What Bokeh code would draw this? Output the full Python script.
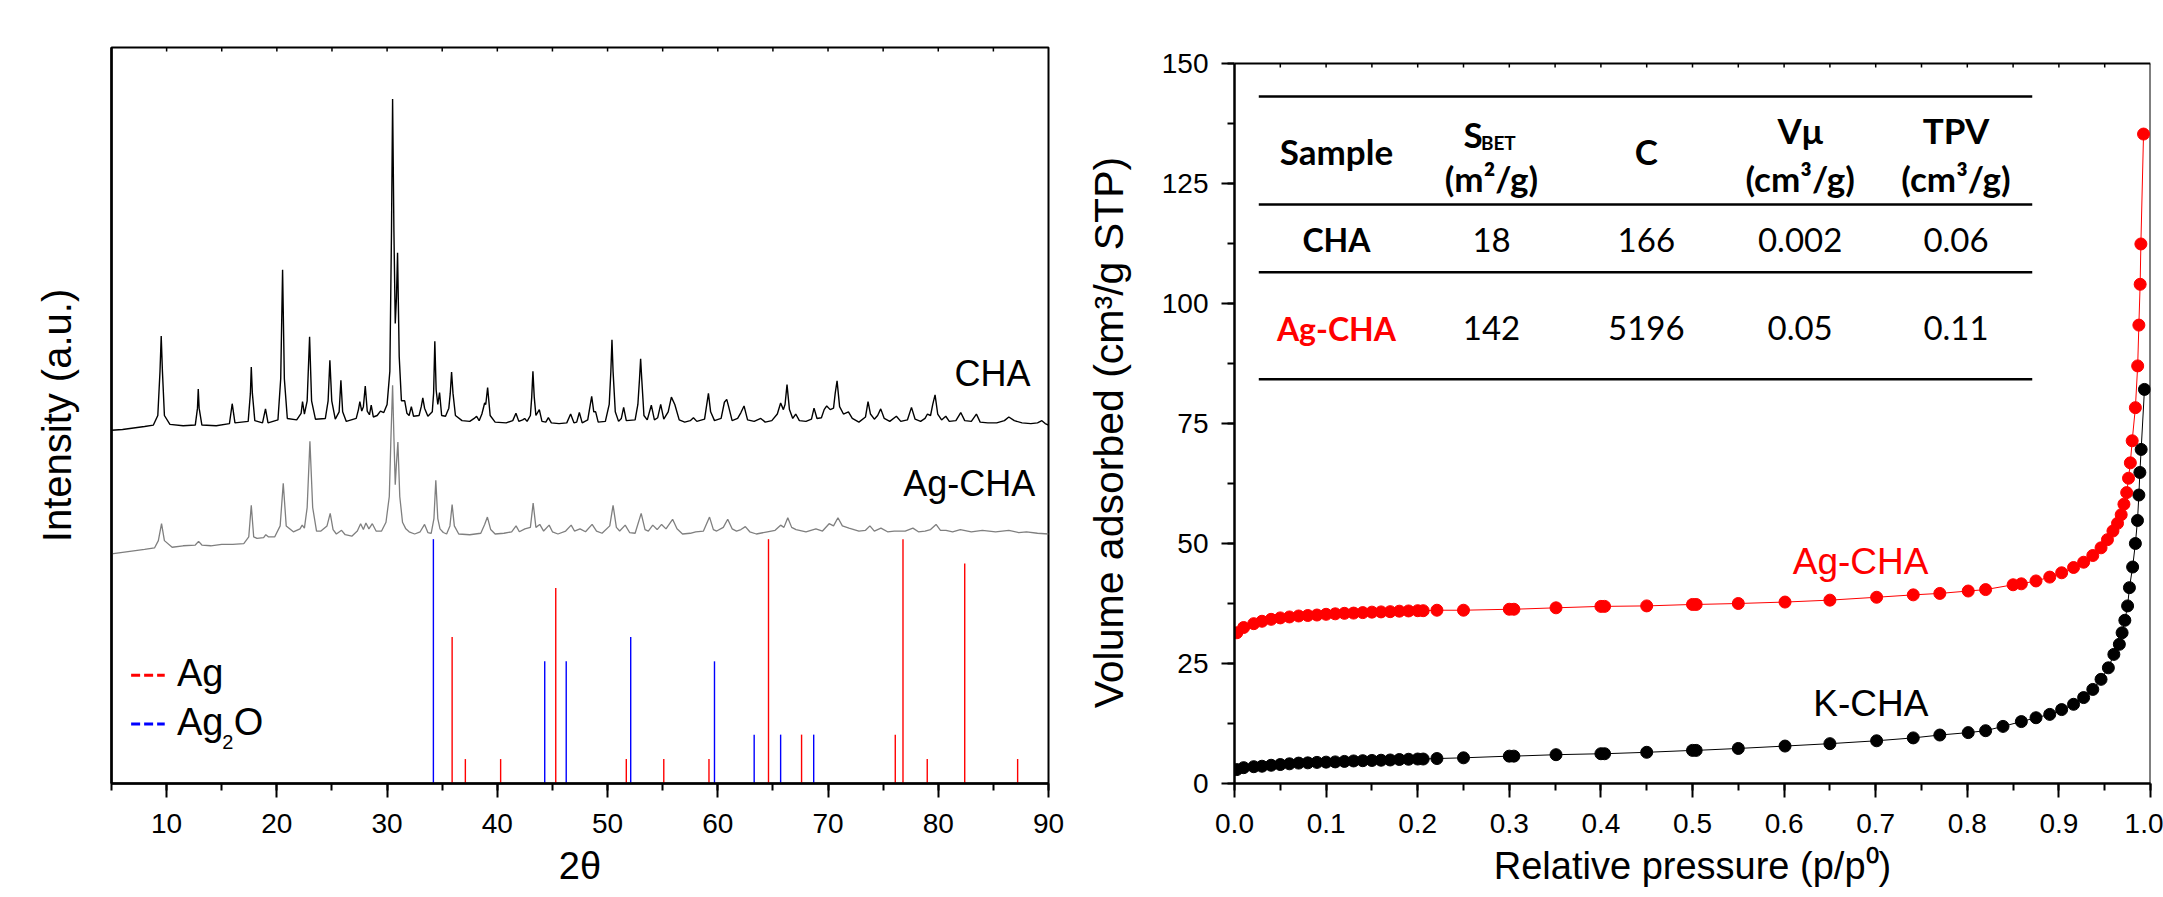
from bokeh.plotting import figure
from bokeh.layouts import row
from bokeh.models import Range1d, SingleIntervalTicker, FixedTicker, NumeralTickFormatter
from bokeh.core.properties import value
from bokeh.embed import file_html
from bokeh.resources import INLINE

AX_FONT = "Liberation Sans"
TB_FONT = "Lato"

# ---------------- XRD data (2theta, intensity a.u.) ----------------
cha_trace = [
    (5.0, 48.0), (6.0, 48.1), (7.0, 48.3), (8.0, 48.5), (8.8, 48.7), (9.2, 50.0), (9.4, 56.0), (9.51, 60.8),
    (9.62, 56.0), (9.8, 50.0), (10.3, 48.8), (11.5, 48.6), (12.6, 48.7), (12.8, 51.0), (12.87, 53.6),
    (12.95, 51.0), (13.2, 48.7), (14.5, 48.6), (15.7, 48.9), (15.95, 51.6), (16.2, 49.0), (17.4, 49.2),
    (17.6, 53.0), (17.68, 56.6), (17.78, 53.0), (18.0, 49.3), (18.7, 49.0), (18.97, 50.9), (19.2, 49.0),
    (20.1, 49.4), (20.35, 55.0), (20.52, 69.8), (20.68, 55.0), (20.95, 49.6), (21.8, 49.4), (22.2, 50.3),
    (22.33, 51.9), (22.5, 50.2), (22.75, 52.0), (22.97, 60.7), (23.15, 52.0), (23.5, 49.5), (24.4, 49.6),
    (24.65, 52.0), (24.81, 57.5), (24.98, 52.0), (25.3, 49.5), (25.65, 50.5), (25.81, 54.8), (25.97, 50.5),
    (26.3, 49.2), (27.2, 49.6), (27.4, 50.8), (27.53, 51.9), (27.7, 50.6), (27.85, 51.2), (28.02, 54.0),
    (28.2, 50.6), (28.4, 50.1), (28.56, 51.4), (28.75, 49.8), (29.1, 50.0), (29.4, 50.6), (29.7, 50.4),
    (30.0, 51.5), (30.25, 56.0), (30.4, 75.0), (30.5, 93.0), (30.62, 75.0), (30.74, 62.5), (30.85, 66.0),
    (30.95, 72.1), (31.1, 58.0), (31.3, 52.0), (31.6, 52.0), (31.8, 50.3), (32.0, 50.0), (32.2, 51.2),
    (32.4, 49.9), (32.9, 50.0), (33.1, 51.2), (33.24, 52.4), (33.4, 51.0), (33.7, 49.9), (34.1, 50.5),
    (34.22, 53.0), (34.33, 60.1), (34.45, 53.5), (34.6, 51.5), (34.76, 53.1), (34.95, 50.0), (35.3, 49.9),
    (35.6, 51.0), (35.73, 53.0), (35.85, 55.9), (35.98, 53.0), (36.2, 50.0), (36.8, 49.3), (37.5, 49.2),
    (37.9, 49.6), (38.12, 49.9), (38.35, 49.3), (38.6, 50.2), (38.85, 51.7), (38.95, 51.5), (39.12, 53.8),
    (39.35, 50.0), (39.8, 49.1), (40.8, 49.0), (41.4, 49.3), (41.69, 50.3), (41.95, 49.2), (42.3, 49.4),
    (42.48, 49.6), (42.7, 49.2), (43.0, 50.0), (43.12, 52.5), (43.23, 56.0), (43.35, 52.5), (43.5, 50.0),
    (43.81, 50.8), (44.05, 49.2), (44.4, 49.1), (44.63, 49.7), (44.9, 49.0), (45.6, 48.9), (46.3, 49.0),
    (46.65, 50.2), (46.95, 49.0), (47.2, 49.1), (47.44, 50.4), (47.7, 49.0), (48.2, 49.4), (48.56, 52.6),
    (48.75, 50.5), (48.92, 50.5), (49.15, 49.1), (49.8, 49.2), (50.15, 51.5), (50.3, 56.0), (50.4, 60.3),
    (50.5, 56.0), (50.7, 50.5), (51.0, 49.2), (51.25, 49.6), (51.46, 51.1), (51.7, 49.3), (52.5, 49.4),
    (52.75, 51.5), (52.9, 55.0), (53.0, 57.7), (53.1, 55.0), (53.3, 50.0), (53.6, 49.4), (53.97, 51.4),
    (54.25, 49.4), (54.55, 49.7), (54.82, 51.5), (55.1, 49.5), (55.5, 50.5), (55.79, 52.5), (56.1, 51.5),
    (56.5, 49.4), (57.0, 49.1), (57.5, 49.3), (57.79, 49.7), (58.1, 49.2), (58.8, 49.5), (59.0, 51.5),
    (59.15, 53.0), (59.35, 50.5), (59.7, 49.3), (60.3, 49.6), (60.6, 51.8), (60.81, 52.2), (60.95, 51.4),
    (61.3, 49.3), (61.8, 49.6), (62.1, 50.4), (62.38, 51.3), (62.7, 49.4), (63.3, 49.2), (63.9, 49.6),
    (64.3, 49.1), (64.9, 49.3), (65.4, 50.2), (65.7, 51.7), (65.95, 50.8), (66.1, 51.5), (66.28, 54.2),
    (66.5, 50.8), (66.8, 49.6), (67.07, 50.2), (67.4, 49.3), (68.0, 49.2), (68.5, 49.5), (68.73, 51.0),
    (69.0, 49.6), (69.4, 49.7), (69.65, 50.8), (69.88, 51.3), (70.2, 50.8), (70.5, 51.0), (70.65, 53.0),
    (70.82, 54.7), (71.05, 51.2), (71.4, 50.2), (71.85, 50.5), (72.2, 49.6), (72.8, 49.1), (73.4, 49.8),
    (73.63, 51.9), (73.85, 50.2), (74.2, 49.5), (74.5, 50.0), (74.78, 50.9), (75.1, 49.6), (75.6, 49.2),
    (76.2, 49.9), (76.6, 49.2), (77.2, 49.4), (77.57, 51.1), (77.9, 49.5), (78.4, 49.2), (78.8, 49.6),
    (79.02, 50.2), (79.3, 50.0), (79.5, 51.5), (79.71, 52.8), (79.95, 50.2), (80.3, 49.4), (80.68, 49.9),
    (81.0, 49.2), (81.6, 49.3), (82.04, 50.4), (82.4, 49.3), (83.0, 49.2), (83.46, 50.2), (83.8, 49.1),
    (84.5, 49.0), (85.3, 49.0), (86.0, 49.3), (86.4, 49.8), (86.9, 49.3), (87.6, 49.0), (88.4, 48.9),
    (89.0, 49.0), (89.4, 49.3), (89.7, 48.9), (90.0, 48.7),
]

agcha_trace = [
    (5.0, 31.2), (6.0, 31.4), (7.0, 31.6), (8.0, 31.8), (8.9, 32.0), (9.25, 33.0), (9.54, 35.3), (9.8, 33.0),
    (10.5, 32.1), (11.5, 32.3), (12.6, 32.4), (12.9, 32.9), (13.2, 32.4), (14.0, 32.3), (15.0, 32.5),
    (16.0, 32.5), (17.0, 32.6), (17.45, 33.5), (17.68, 37.8), (17.9, 33.5), (18.2, 33.3), (18.8, 33.4),
    (19.0, 33.8), (19.25, 33.5), (19.8, 33.5), (20.3, 35.0), (20.58, 40.8), (20.85, 35.0), (21.5, 34.2),
    (22.1, 34.6), (22.3, 35.1), (22.5, 34.7), (22.75, 37.5), (23.0, 46.5), (23.25, 37.5), (23.6, 34.3),
    (24.0, 34.3), (24.55, 35.0), (24.84, 36.7), (25.1, 34.5), (25.4, 33.9), (25.87, 34.4), (26.2, 33.8),
    (26.8, 33.6), (27.3, 34.3), (27.6, 35.3), (27.85, 34.5), (28.08, 35.4), (28.35, 34.6), (28.66, 35.3),
    (29.0, 34.3), (29.5, 34.3), (29.9, 35.5), (30.2, 39.0), (30.35, 47.0), (30.5, 54.1), (30.62, 47.0),
    (30.74, 40.6), (30.85, 43.5), (30.98, 46.4), (31.15, 39.0), (31.4, 35.5), (31.7, 34.6), (32.0, 34.2),
    (32.5, 33.9), (33.0, 34.2), (33.4, 35.2), (33.7, 34.1), (34.0, 34.0), (34.25, 36.0), (34.42, 41.2),
    (34.6, 36.0), (34.8, 34.6), (35.1, 34.1), (35.4, 33.9), (35.7, 35.0), (35.9, 37.9), (36.1, 35.0),
    (36.5, 33.9), (37.5, 33.8), (38.5, 34.0), (38.85, 35.2), (39.1, 36.2), (39.4, 34.5), (39.8, 33.9),
    (40.6, 34.0), (41.3, 34.2), (41.7, 35.0), (42.0, 34.2), (42.5, 34.6), (43.0, 34.8), (43.25, 38.1),
    (43.5, 34.8), (43.85, 35.2), (44.2, 34.3), (44.7, 35.1), (45.0, 34.2), (45.5, 33.9), (46.2, 34.3),
    (46.7, 35.1), (47.0, 34.3), (47.5, 34.6), (48.0, 34.2), (48.6, 35.2), (49.0, 34.3), (49.5, 34.0),
    (50.2, 35.0), (50.5, 37.8), (50.8, 34.8), (51.1, 34.3), (51.6, 35.1), (52.0, 34.1), (52.5, 34.0),
    (53.05, 36.7), (53.4, 34.5), (53.7, 34.3), (54.1, 35.1), (54.5, 34.5), (54.9, 35.2), (55.3, 34.6),
    (55.9, 35.9), (56.3, 34.6), (56.8, 33.9), (57.5, 34.0), (58.0, 34.2), (58.7, 34.3), (59.25, 36.2),
    (59.6, 34.5), (59.9, 34.3), (60.5, 34.8), (60.9, 35.9), (61.3, 34.6), (61.7, 34.3), (62.1, 34.5),
    (62.5, 34.9), (62.9, 34.2), (63.5, 33.9), (64.5, 34.2), (65.2, 34.4), (65.7, 35.1), (66.0, 34.8),
    (66.35, 36.1), (66.7, 34.8), (67.1, 34.5), (68.0, 34.2), (68.9, 34.6), (69.5, 34.3), (70.1, 35.3),
    (70.5, 35.0), (70.9, 36.1), (71.3, 35.0), (71.9, 34.7), (72.8, 34.3), (73.4, 34.4), (73.8, 35.0),
    (74.2, 34.3), (74.8, 34.7), (75.4, 34.2), (76.0, 34.3), (77.0, 34.3), (77.7, 34.7), (78.2, 34.2),
    (78.8, 34.3), (79.3, 34.5), (79.8, 35.2), (80.2, 34.4), (80.7, 34.4), (81.3, 34.2), (82.0, 34.5),
    (83.0, 34.2), (84.0, 34.4), (85.2, 34.2), (86.4, 34.4), (87.3, 34.1), (88.0, 34.2), (89.0, 34.0),
    (90.0, 33.9),
]

# reference patterns: positions (2theta) and relative intensity (%)
ag_pos = [35.9, 37.1, 40.3, 45.3, 51.7, 55.1, 59.2, 64.6, 67.6, 76.1, 76.8, 79.0, 82.4, 87.2]
ag_rel = [60, 10, 10, 80, 10, 10, 10, 100, 20, 20, 100, 10, 90, 10]
ag2o_pos = [34.2, 44.3, 46.25, 52.1, 59.7, 63.3, 65.7, 68.7]
ag2o_rel = [100, 50, 50, 60, 50, 20, 20, 20]
ref_scale = 0.332   # a.u. per % of relative intensity

# ---------------- N2 isotherms (p/p0, cm3/g STP) ----------------
p_low = [0.0025, 0.01, 0.021, 0.03, 0.04, 0.05, 0.06, 0.07, 0.08, 0.09, 0.10, 0.11, 0.12, 0.13,
         0.14, 0.15, 0.16, 0.17, 0.18, 0.19, 0.20, 0.206, 0.221]
kcha_p = p_low + [0.250, 0.300, 0.305, 0.351, 0.400, 0.404, 0.450, 0.500, 0.504, 0.550, 0.601, 0.650,
                  0.701, 0.741, 0.770, 0.801, 0.820, 0.839, 0.859, 0.875, 0.890, 0.903, 0.916, 0.927,
                  0.937, 0.946, 0.954, 0.960, 0.966, 0.969, 0.972, 0.975, 0.977, 0.9805, 0.9835, 0.9858,
                  0.9873, 0.9884, 0.9898, 0.9934]
kcha_v = [2.9, 3.3, 3.5, 3.6, 3.8, 3.95, 4.1, 4.25, 4.3, 4.4, 4.45, 4.5, 4.6, 4.7, 4.75, 4.8, 4.85,
          4.9, 5.0, 5.05, 5.1, 5.1, 5.2,
          5.35, 5.7, 5.7, 6.0, 6.2, 6.2, 6.5, 6.9, 6.9, 7.3, 7.8, 8.3, 8.9, 9.5, 10.1, 10.6, 11.0, 11.9,
          12.9, 13.7, 14.4, 15.4, 16.5, 17.9, 19.6, 21.7, 24.1, 26.9, 29.0, 31.4, 34.0, 37.0, 40.8,
          45.1, 50.0, 54.8, 60.1, 64.8, 69.6, 82.1]
agcha_p = p_low + [0.250, 0.300, 0.305, 0.351, 0.400, 0.404, 0.450, 0.500, 0.504, 0.550, 0.601, 0.650,
                   0.701, 0.741, 0.770, 0.801, 0.820, 0.850, 0.859, 0.875, 0.890, 0.903, 0.916, 0.927,
                   0.937, 0.946, 0.953, 0.959, 0.964, 0.968, 0.971, 0.974, 0.976, 0.978, 0.980, 0.9835,
                   0.986, 0.9873, 0.9887, 0.9895, 0.9924]
agcha_v = [31.4, 32.5, 33.3, 33.8, 34.2, 34.5, 34.7, 34.9, 35.0, 35.1, 35.25, 35.35, 35.45, 35.5,
           35.6, 35.7, 35.75, 35.8, 35.9, 35.95, 36.0, 36.0, 36.1,
           36.1, 36.3, 36.3, 36.6, 36.9, 36.9, 37.0, 37.3, 37.3, 37.5, 37.8, 38.2, 38.8, 39.3, 39.6,
           40.1, 40.4, 41.4, 41.6, 42.2, 43.0, 43.9, 45.0, 46.1, 47.5, 49.1, 50.8, 52.6, 54.2, 56.0,
           58.2, 60.6, 63.6, 66.8, 71.4, 78.3, 87.0, 95.5, 104.0, 112.4, 135.3]

# ---------------- table ----------------
tbl_samples = ["CHA", "Ag-CHA"]
tbl_sbet = ["18", "142"]
tbl_c = ["166", "5196"]
tbl_vmu = ["0.002", "0.05"]
tbl_tpv = ["0.06", "0.11"]

# ============================================================================
FRAME_H = 736
V_MAX = 150.0
V_TOP = V_MAX * FRAME_H / 720.0     # right panel frame is 720 px tall for 0..150
TOP_TICK_PX = 4
NBSP = "\u00a0"


def style_axis(ax, tick_out, minor_out):
    ax.axis_line_width = 2.5
    ax.axis_line_color = "black"
    ax.major_tick_out = tick_out
    ax.major_tick_in = 0
    ax.minor_tick_out = minor_out
    ax.minor_tick_in = 0
    ax.major_tick_line_width = 2
    ax.minor_tick_line_width = 2
    ax.major_tick_line_color = "black"
    ax.minor_tick_line_color = "black"
    ax.major_label_text_font = AX_FONT
    ax.major_label_text_font_size = "28px"
    ax.major_label_text_color = "black"
    ax.axis_label_text_font = AX_FONT
    ax.axis_label_text_font_style = "normal"
    ax.axis_label_text_font_size = "40px"
    ax.axis_label_text_color = "black"


# ---------------- left panel: XRD ----------------
p1 = figure(frame_width=937, frame_height=FRAME_H, min_border_left=111, min_border_right=32,
            min_border_top=47, min_border_bottom=112, x_range=Range1d(5, 90), y_range=Range1d(0, 100),
            output_backend="svg", toolbar_location=None, title=None)
p1.grid.visible = False
p1.outline_line_color = "black"
p1.outline_line_width = 2
p1.outline_line_alpha = 1

xa = p1.xaxis[0]
xa.ticker = SingleIntervalTicker(interval=10, num_minor_ticks=2)
style_axis(xa, 14, 7)
xa.major_label_standoff = 16
xa.axis_label = "2θ"
xa.axis_label_text_font_size = "38px"
xa.axis_label_standoff = 9
ya = p1.yaxis[0]
ya.ticker = FixedTicker(ticks=[])
style_axis(ya, 0, 0)
ya.axis_label = "Intensity (a.u.)"
ya.axis_label_standoff = 33

# small inner ticks on the top edge
top1 = list(range(10, 90, 5))
p1.segment(x0=top1, y0=[100] * len(top1), x1=top1, y1=[100 - TOP_TICK_PX * 100 / FRAME_H] * len(top1),
           line_color="black", line_width=1.5)

p1.segment(x0=ag_pos, y0=[0] * len(ag_pos), x1=ag_pos, y1=[r * ref_scale for r in ag_rel],
           line_color="#ff0000", line_width=1.4)
p1.segment(x0=ag2o_pos, y0=[0] * len(ag2o_pos), x1=ag2o_pos, y1=[r * ref_scale for r in ag2o_rel],
           line_color="#0000ff", line_width=1.4)
p1.line([t for t, _ in agcha_trace], [i for _, i in agcha_trace], line_color="#7f7f7f", line_width=1.3)
p1.line([t for t, _ in cha_trace], [i for _, i in cha_trace], line_color="black", line_width=1.4)

lbl_kw = dict(text_font=value(AX_FONT), text_font_size="36px", text_baseline="middle",
              text_align="right", text_color="black")
p1.text(x=[88.36], y=[55.7], text=["CHA"], **lbl_kw)
p1.text(x=[88.8], y=[40.8], text=["Ag-CHA"], **lbl_kw)

# legend
p1.line([6.78, 9.83], [14.7, 14.7], line_color="#ff0000", line_width=3, line_dash="9 4")
p1.line([6.78, 9.83], [8.1, 8.1], line_color="#0000ff", line_width=3, line_dash="9 4")
leg_kw = dict(text_font=value(AX_FONT), text_baseline="middle", text_align="left", text_color="black")
p1.text(x=[10.94], y=[15.0], text=["Ag"], text_font_size="38px", **leg_kw)
p1.text(x=[10.94], y=[8.4], text=["Ag"], text_font_size="38px", **leg_kw)
p1.text(x=[15.04], y=[5.6], text=["2"], text_font_size="20px", **leg_kw)
p1.text(x=[16.09], y=[8.4], text=["O"], text_font_size="38px", **leg_kw)

# ---------------- right panel: isotherms ----------------
p2 = figure(frame_width=916, frame_height=FRAME_H, min_border_left=154, min_border_right=13,
            min_border_top=47, min_border_bottom=112, x_range=Range1d(0, 1), y_range=Range1d(0, V_TOP),
            output_backend="svg", toolbar_location=None, title=None)
p2.grid.visible = False
p2.outline_line_color = None

xb = p2.xaxis[0]
xb.ticker = SingleIntervalTicker(interval=0.1, num_minor_ticks=2)
xb.formatter = NumeralTickFormatter(format="0.0")
style_axis(xb, 14, 7)
xb.major_label_standoff = 16
xb.axis_label = "Relative pressure (p/p⁰)"
xb.axis_label_text_font_size = "38px"
xb.axis_label_standoff = 9
yb = p2.yaxis[0]
yb.ticker = SingleIntervalTicker(interval=25, num_minor_ticks=2)
yb.bounds = (0, V_MAX)
style_axis(yb, 13, 7)
yb.major_label_standoff = 13
# trailing no-break spaces keep the title centred on the 0-150 part of the axis
yb.axis_label = "Volume adsorbed (cm³/g STP)" + NBSP * 3
yb.axis_label_text_font_size = "41px"
yb.axis_label_standoff = 27

# frame of the right panel (top and right edges) with small inner ticks on top
p2.segment(x0=[0, 1], y0=[V_MAX, 0], x1=[1, 1], y1=[V_MAX, V_MAX], line_color="black", line_width=2)
top2 = [k / 20 for k in range(1, 20)]
p2.segment(x0=top2, y0=[V_MAX] * len(top2), x1=top2,
           y1=[V_MAX - TOP_TICK_PX * V_TOP / FRAME_H] * len(top2), line_color="black", line_width=1.5)

p2.line(kcha_p, kcha_v, line_color="black", line_width=1)
p2.scatter(kcha_p, kcha_v, size=12, fill_color="black", line_color="black")
p2.line(agcha_p, agcha_v, line_color="#ff0000", line_width=1)
p2.scatter(agcha_p, agcha_v, size=12, fill_color="#ff0000", line_color="#ff0000")

p2.text(x=[0.7576], y=[46.25], text=["Ag-CHA"], text_font=value(AX_FONT), text_font_size="37px",
        text_baseline="middle", text_align="right", text_color="#ff0000")
p2.text(x=[0.7576], y=[16.6], text=["K-CHA"], text_font=value(AX_FONT), text_font_size="37px",
        text_baseline="middle", text_align="right", text_color="black")

# table
p2.segment(x0=[0.0265] * 4, y0=[143.1, 120.6, 106.5, 84.2], x1=[0.8709] * 4,
           y1=[143.1, 120.6, 106.5, 84.2], line_color="black", line_width=2.5)

col_x = [0.1113, 0.2806, 0.4496, 0.6175, 0.7877]
hdr = dict(text_font=value(TB_FONT), text_font_style="bold", text_font_size="35px",
           text_baseline="middle", text_align="center", text_color="black")
p2.text(x=[col_x[0], col_x[2]], y=[131.7, 131.7], text=["Sample", "C"], **hdr)
p2.text(x=[col_x[3], col_x[4]], y=[136.1, 136.1], text=["Vμ", "TPV"], **hdr)
p2.text(x=[col_x[1], col_x[3], col_x[4]], y=[126.1, 126.1, 126.1],
        text=["(m²/g)", "(cm³/g)", "(cm³/g)"], **hdr)
p2.text(x=[0.2500], y=[135.4], text=["S"], text_font=value(TB_FONT), text_font_style="bold",
        text_font_size="35px", text_baseline="middle", text_align="left", text_color="black")
p2.text(x=[0.2690], y=[133.6], text=["BET"], text_font=value(TB_FONT), text_font_style="bold",
        text_font_size="19px", text_baseline="middle", text_align="left", text_color="black")

row_y = [113.3, 94.8]
p2.text(x=[col_x[0]] * 2, y=row_y, text=tbl_samples, text_font=value(TB_FONT), text_font_style="bold",
        text_font_size="32px", text_baseline="middle", text_align="center",
        text_color=["black", "#ff0000"])
cell = dict(text_font=value(TB_FONT), text_font_size="33px", text_baseline="middle",
            text_align="center", text_color="black")
for cx, vals in zip(col_x[1:], [tbl_sbet, tbl_c, tbl_vmu, tbl_tpv]):
    p2.text(x=[cx] * 2, y=row_y, text=vals, **cell)

layout = row(p1, p2)
open("out.html", "w").write(file_html(layout, INLINE))
